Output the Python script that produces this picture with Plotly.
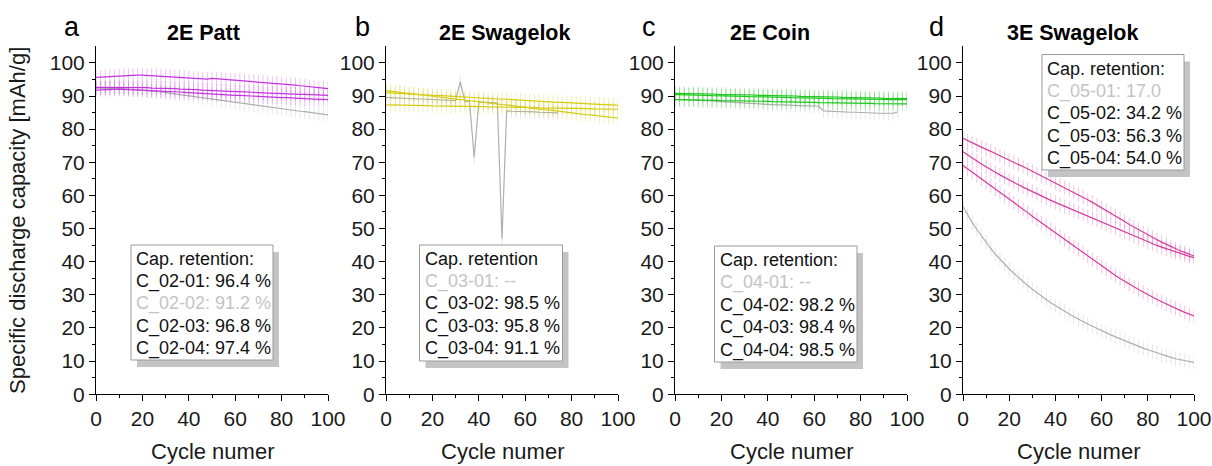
import plotly.graph_objects as go

# Cycle numbers (every second cycle)
cycles = list(range(0, 101, 2))

# ---- 2E Patt ----
patt_c02_01 = [95.6, 95.7, 95.8, 95.9, 96.0, 96.1, 96.2, 96.2, 96.3, 96.3, 96.3, 96.2, 96.2, 96.1, 96.0, 96.0,
               95.9, 95.8, 95.7, 95.6, 95.5, 95.4, 95.3, 95.2, 95.1, 95.3, 95.2, 95.1, 95.0, 94.9, 94.8, 94.7,
               94.6, 94.5, 94.4, 94.3, 94.2, 94.0, 93.9, 93.8, 93.7, 93.5, 93.4, 93.3, 93.1, 93.0, 92.8, 92.7,
               92.5, 92.4, 92.2]
patt_c02_02 = [92.4, 92.4, 92.4, 92.4, 92.3, 92.3, 92.2, 92.1, 92.0, 91.9, 91.8, 91.6, 91.5, 91.3, 91.2, 91.0,
               90.8, 90.7, 90.5, 90.3, 90.1, 89.9, 89.7, 89.5, 89.3, 89.1, 88.9, 88.7, 88.5, 88.3, 88.1, 87.9,
               87.7, 87.5, 87.3, 87.1, 86.9, 86.7, 86.5, 86.3, 86.1, 85.9, 85.8, 85.6, 85.4, 85.3, 85.1, 84.9,
               84.7, 84.5, 84.3]
patt_c02_03 = [91.8, 91.9, 91.9, 92.0, 92.0, 92.0, 92.0, 91.9, 91.9, 91.9, 91.8, 91.7, 91.7, 91.6, 91.5, 91.4,
               91.4, 91.3, 91.2, 91.1, 91.0, 90.9, 90.9, 90.8, 90.7, 90.6, 90.5, 90.5, 90.4, 90.3, 90.2, 90.2,
               90.1, 90.0, 89.9, 89.9, 89.8, 89.7, 89.7, 89.6, 89.5, 89.5, 89.4, 89.4, 89.3, 89.2, 89.2, 89.1,
               89.0, 89.0, 88.9]
patt_c02_04 = [92.6, 92.6, 92.7, 92.7, 92.7, 92.7, 92.7, 92.6, 92.6, 92.6, 92.5, 92.5, 92.4, 92.4, 92.3, 92.3,
               92.2, 92.2, 92.1, 92.1, 92.0, 91.9, 91.9, 91.8, 91.7, 91.7, 91.6, 91.5, 91.5, 91.4, 91.3, 91.3,
               91.2, 91.1, 91.1, 91.0, 90.9, 90.9, 90.8, 90.8, 90.7, 90.7, 90.6, 90.6, 90.5, 90.5, 90.4, 90.4,
               90.3, 90.3, 90.2]

# ---- 2E Swagelok ----
swg_c03_01 = [89.6, 89.5, 89.5, 89.4, 89.3, 89.3, 89.2, 89.1, 89.1, 89.0, 88.9, 88.9, 88.8, 88.7, 88.7, 88.6,
              94.3, 88.4, 88.3, 71.5, 88.2, 88.1, 88.0, 88.0, 87.9, 47.0, 85.5, 85.4, 85.4, 85.3, 85.3, 85.2,
              85.2, 85.1, 85.1, 85.0, 85.0, 84.9, None, None, None, None, None, None, None, None, None, None,
              None, None, None]
swg_c03_02 = [87.3, 87.3, 87.3, 87.2, 87.2, 87.2, 87.2, 87.1, 87.1, 87.1, 87.0, 87.0, 87.0, 87.0, 86.9, 86.9,
              86.9, 86.9, 86.8, 86.8, 86.8, 86.8, 86.7, 86.7, 86.7, 86.6, 86.6, 86.6, 86.6, 86.5, 86.5, 86.5,
              86.5, 86.4, 86.4, 86.4, 86.4, 86.3, 86.3, 86.3, 86.3, 86.2, 86.2, 86.2, 86.2, 86.1, 86.1, 86.1,
              86.1, 86.0, 86.0]
swg_c03_03 = [91.0, 90.9, 90.8, 90.8, 90.7, 90.6, 90.5, 90.5, 90.4, 90.3, 90.2, 90.1, 90.1, 90.0, 89.9, 89.8,
              89.8, 89.7, 89.6, 89.5, 89.5, 89.4, 89.3, 89.2, 89.1, 89.1, 89.0, 88.9, 88.8, 88.8, 88.7, 88.6,
              88.5, 88.4, 88.4, 88.3, 88.2, 88.1, 88.1, 88.0, 87.9, 87.8, 87.8, 87.7, 87.6, 87.5, 87.5, 87.4,
              87.3, 87.3, 87.2]
swg_c03_04 = [91.6, 91.4, 91.3, 91.1, 90.9, 90.8, 90.6, 90.4, 90.3, 90.1, 89.9, 89.8, 89.6, 89.4, 89.3, 89.1,
              88.9, 88.8, 88.6, 88.4, 88.3, 88.1, 87.9, 87.8, 87.6, 87.4, 87.3, 87.1, 86.9, 86.8, 86.6, 86.4,
              86.3, 86.1, 85.9, 85.8, 85.6, 85.4, 85.3, 85.1, 84.9, 84.8, 84.6, 84.4, 84.3, 84.1, 83.9, 83.8,
              83.6, 83.5, 83.4]

# ---- 2E Coin ----
coin_c04_01 = [89.0, 89.0, 88.9, 88.9, 88.8, 88.7, 88.7, 88.6, 88.5, 88.4, 88.3, 88.2, 88.1, 88.0, 87.9, 87.8,
               87.7, 87.6, 87.5, 87.5, 87.4, 87.4, 87.3, 87.3, 87.2, 87.2, 87.1, 87.1, 87.0, 87.0, 86.9, 86.9,
               85.5, 85.4, 85.3, 85.3, 85.2, 85.2, 85.1, 85.1, 85.0, 85.0, 84.9, 84.9, 84.8, 84.8, 84.7, 84.8,
               85.2, None, None]
coin_c04_02 = [90.8, 90.8, 90.8, 90.7, 90.7, 90.7, 90.6, 90.6, 90.6, 90.5, 90.5, 90.5, 90.4, 90.4, 90.4, 90.3,
               90.3, 90.3, 90.2, 90.2, 90.2, 90.1, 90.1, 90.1, 90.0, 90.0, 90.0, 89.9, 89.9, 89.9, 89.8, 89.8,
               89.8, 89.7, 89.7, 89.7, 89.6, 89.6, 89.6, 89.5, 89.5, 89.5, 89.4, 89.4, 89.4, 89.3, 89.3, 89.3,
               89.3, 89.2, 89.2]
coin_c04_03 = [90.4, 90.4, 90.4, 90.3, 90.3, 90.3, 90.2, 90.2, 90.1, 90.1, 90.1, 90.0, 90.0, 90.0, 89.9, 89.9,
               89.8, 89.8, 89.8, 89.7, 89.7, 89.7, 89.6, 89.6, 89.6, 89.5, 89.5, 89.5, 89.4, 89.4, 89.4, 89.3,
               89.3, 89.3, 89.2, 89.2, 89.2, 89.1, 89.1, 89.1, 89.1, 89.0, 89.0, 89.0, 89.0, 89.0, 88.9, 88.9,
               88.9, 88.9, 88.9]
coin_c04_04 = [88.9, 88.9, 88.9, 88.8, 88.8, 88.8, 88.8, 88.7, 88.7, 88.7, 88.6, 88.6, 88.6, 88.6, 88.5, 88.5,
               88.5, 88.4, 88.4, 88.4, 88.4, 88.3, 88.3, 88.3, 88.2, 88.2, 88.2, 88.2, 88.1, 88.1, 88.1, 88.0,
               88.0, 88.0, 88.0, 87.9, 87.9, 87.9, 87.9, 87.8, 87.8, 87.8, 87.8, 87.7, 87.7, 87.7, 87.7, 87.7,
               87.6, 87.6, 87.6]

# ---- 3E Swagelok ----
s3e_c05_01 = [56.6, 54.1, 51.8, 49.7, 47.7, 45.8, 44.0, 42.3, 40.7, 39.2, 37.8, 36.5, 35.2, 34.0, 32.8, 31.7,
              30.6, 29.6, 28.6, 27.6, 26.7, 25.8, 25.0, 24.2, 23.4, 22.6, 21.9, 21.2, 20.5, 19.8, 19.2, 18.5,
              17.9, 17.3, 16.7, 16.1, 15.5, 15.0, 14.4, 13.9, 13.4, 12.9, 12.4, 11.9, 11.5, 11.1, 10.7, 10.4,
              10.1, 9.8, 9.6]
s3e_c05_02 = [69.0, 68.0, 67.0, 65.9, 64.9, 63.9, 62.9, 61.9, 60.9, 59.8, 58.8, 57.8, 56.8, 55.8, 54.8, 53.7,
              52.7, 51.7, 50.7, 49.7, 48.7, 47.6, 46.6, 45.6, 44.6, 43.6, 42.6, 41.6, 40.6, 39.6, 38.6, 37.6,
              36.7, 35.8, 34.9, 34.0, 33.2, 32.4, 31.6, 30.8, 30.0, 29.3, 28.6, 27.9, 27.2, 26.6, 26.0, 25.3,
              24.7, 24.1, 23.6]
s3e_c05_03 = [73.2, 72.2, 71.3, 70.4, 69.5, 68.6, 67.8, 67.0, 66.2, 65.4, 64.6, 63.9, 63.2, 62.5, 61.8, 61.2,
              60.5, 59.8, 59.2, 58.5, 57.9, 57.3, 56.7, 56.1, 55.5, 54.9, 54.3, 53.7, 53.1, 52.5, 51.9, 51.3,
              50.7, 50.1, 49.5, 48.9, 48.3, 47.7, 47.1, 46.5, 45.9, 45.4, 44.9, 44.4, 43.9, 43.4, 42.9, 42.5,
              42.1, 41.6, 41.2]
s3e_c05_04 = [77.2, 76.5, 75.9, 75.2, 74.6, 73.9, 73.3, 72.6, 71.9, 71.3, 70.6, 70.0, 69.3, 68.7, 68.0, 67.3,
              66.6, 65.9, 65.2, 64.5, 63.8, 63.1, 62.4, 61.7, 61.0, 60.3, 59.5, 58.7, 57.9, 57.1, 56.3, 55.5,
              54.6, 53.8, 52.9, 52.1, 51.2, 50.4, 49.6, 48.8, 48.0, 47.3, 46.6, 45.9, 45.2, 44.5, 43.9, 43.3,
              42.8, 42.2, 41.7]

panel_letters = ["a", "b", "c", "d"]
panel_titles = ["2E Patt", "2E Swagelok", "2E Coin", "3E Swagelok"]
legend_heads = ["Cap. retention:", "Cap. retention", "Cap. retention:", "Cap. retention:"]
legend_rows = [
    [("C_02-01: 96.4 %", False), ("C_02-02: 91.2 %", True), ("C_02-03: 96.8 %", False), ("C_02-04: 97.4 %", False)],
    [("C_03-01: --", True), ("C_03-02: 98.5 %", False), ("C_03-03: 95.8 %", False), ("C_03-04: 91.1 %", False)],
    [("C_04-01: --", True), ("C_04-02: 98.2 %", False), ("C_04-03: 98.4 %", False), ("C_04-04: 98.5 %", False)],
    [("C_05-01: 17.0", True), ("C_05-02: 34.2 %", False), ("C_05-03: 56.3 %", False), ("C_05-04: 54.0 %", False)],
]

GRAY = (175, 175, 175)
VIOLET = (196, 52, 224)
YELLOW = (214, 204, 20)
GREEN = (30, 200, 30)
PINK = (212, 60, 160)

panels = [
    [(patt_c02_02, GRAY), (patt_c02_01, VIOLET), (patt_c02_03, VIOLET), (patt_c02_04, VIOLET)],
    [(swg_c03_01, GRAY), (swg_c03_02, YELLOW), (swg_c03_03, YELLOW), (swg_c03_04, YELLOW)],
    [(coin_c04_01, GRAY), (coin_c04_02, GREEN), (coin_c04_03, GREEN), (coin_c04_04, GREEN)],
    [(s3e_c05_01, GRAY), (s3e_c05_02, PINK), (s3e_c05_03, PINK), (s3e_c05_04, PINK)],
]

W, H = 1212, 466
FONT = "Liberation Sans, Arial, sans-serif"

# pixel geometry of the four plot areas
x_px = [(96, 328), (386, 618), (675, 907), (963, 1194)]
y_top, y_bot = 46.3, 394.2


def px(x):
    return x / W


def py(y):
    return 1 - y / H


fig = go.Figure()

for i, series in enumerate(panels):
    ax = "" if i == 0 else str(i + 1)
    for vals, (r, g, b) in series:
        fig.add_trace(go.Scatter(
            x=cycles, y=vals, mode="lines+markers",
            xaxis="x" + ax, yaxis="y" + ax,
            line=dict(color=f"rgb({r},{g},{b})", width=1.2),
            marker=dict(symbol="line-ns", size=10,
                        line=dict(width=1, color=f"rgba({r},{g},{b},0.3)")),
            connectgaps=False, showlegend=False, hoverinfo="skip",
        ))

axis_common = dict(showline=True, linecolor="black", linewidth=1, showgrid=False, zeroline=False,
                   automargin=False,
                   ticks="outside", ticklen=6, tickwidth=1, tickcolor="black",
                   tickfont=dict(family=FONT, size=21, color="#1a1a1a"))

layout = dict(width=W, height=H, margin=dict(l=0, r=0, t=0, b=0, pad=0, autoexpand=False),
              paper_bgcolor="white", plot_bgcolor="white", showlegend=False)

for i, (x0, x1) in enumerate(x_px):
    sfx = "" if i == 0 else str(i + 1)
    layout["xaxis" + sfx] = dict(axis_common, domain=[px(x0), px(x1)], range=[0, 100],
                                 tickvals=[0, 20, 40, 60, 80, 100],
                                 minor=dict(tickvals=[10, 30, 50, 70, 90], ticks="outside", ticklen=3,
                                            tickcolor="black", tickwidth=1),
                                 anchor="y" + sfx)
    layout["yaxis" + sfx] = dict(axis_common, domain=[py(y_bot), py(y_top)], range=[0, 105],
                                 tickvals=list(range(0, 101, 10)),
                                 minor=dict(tickvals=list(range(5, 100, 10)), ticks="outside", ticklen=3,
                                            tickcolor="black", tickwidth=1),
                                 anchor="x" + sfx)

fig.update_layout(**layout)

annotations = []
shapes = []

letter_x = [72, 362, 649, 937]
title_x = [203, 504, 770, 1072]
for i in range(4):
    annotations.append(dict(x=px(letter_x[i]), y=py(27), xref="paper", yref="paper", text=panel_letters[i],
                            showarrow=False, xanchor="center", yanchor="middle",
                            font=dict(family=FONT, size=27, color="black")))
    annotations.append(dict(x=px(title_x[i]), y=py(33), xref="paper", yref="paper",
                            text="<b>" + panel_titles[i] + "</b>", showarrow=False,
                            xanchor="center", yanchor="middle",
                            font=dict(family=FONT, size=21.5, color="black")))
    x0, x1 = x_px[i]
    annotations.append(dict(x=px((x0 + x1) / 2), y=py(451), xref="paper", yref="paper", text="Cycle numer",
                            showarrow=False, xanchor="center", yanchor="middle",
                            font=dict(family=FONT, size=22, color="#1a1a1a")))

annotations.append(dict(x=px(18), y=py(221), xref="paper", yref="paper",
                        text="Specific discharge capacity [mAh/g]", textangle=-90, showarrow=False,
                        xanchor="center", yanchor="middle",
                        font=dict(family=FONT, size=22, color="#1a1a1a")))

# retention boxes: (left, top, right, bottom, text-left, first-row centre)
boxes = [
    (131, 245, 273, 360, 133.5, 258.5),
    (419.5, 245, 562.5, 361, 422.5, 258.5),
    (714.5, 246, 857, 362, 717.5, 260),
    (1042, 54.5, 1184, 170, 1044.5, 68.5),
]
row_step = 22.5
for i, (bl, bt, br, bb, tx, ty) in enumerate(boxes):
    shapes.append(dict(type="rect", xref="paper", yref="paper", x0=px(bl + 6), x1=px(br + 6),
                       y0=py(bb + 7), y1=py(bt + 7), fillcolor="#c4c4c4", line=dict(width=0), layer="above"))
    shapes.append(dict(type="rect", xref="paper", yref="paper", x0=px(bl), x1=px(br),
                       y0=py(bb), y1=py(bt), fillcolor="white", line=dict(width=1, color="#9a9a9a"),
                       layer="above"))
    rows = [(legend_heads[i], False)] + legend_rows[i]
    for k, (txt, faded) in enumerate(rows):
        annotations.append(dict(x=px(tx), y=py(ty + k * row_step), xref="paper", yref="paper", text=txt,
                                showarrow=False, xanchor="left", yanchor="middle",
                                font=dict(family=FONT, size=18, color="#c4c4c4" if faded else "#111111")))

fig.update_layout(annotations=annotations, shapes=shapes)
fig.write_html("out.html",
               post_script="document.body.style.margin='0';document.body.style.overflow='hidden';")
